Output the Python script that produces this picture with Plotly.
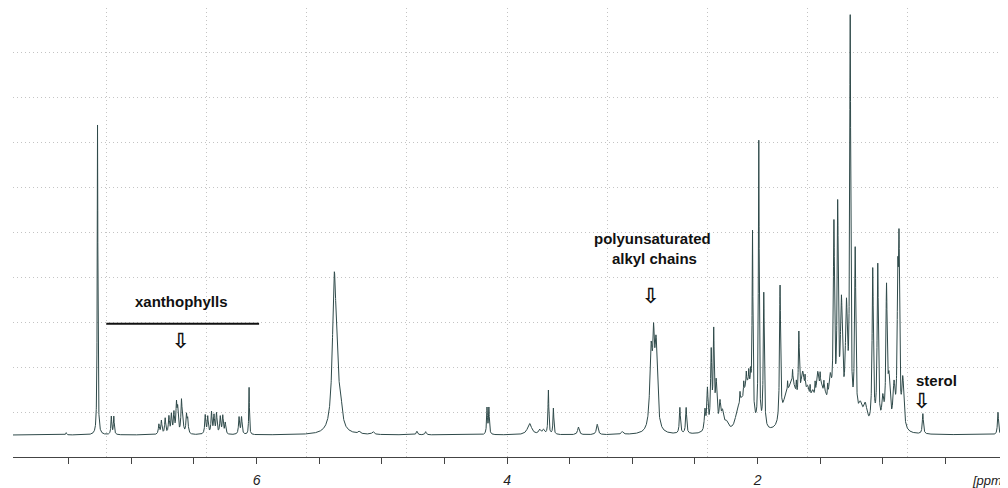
import numpy as np
import plotly.graph_objects as go

# ---- data (1H NMR peak list) ----
# chemical shift (ppm), height (arbitrary intensity units), half width (ppm)
peak_ppm = [7.52, 7.27, 7.16, 7.14,
            6.78, 6.76, 6.73, 6.70, 6.68, 6.66, 6.64, 6.63, 6.60, 6.59, 6.56, 6.55,
            6.41, 6.39, 6.36, 6.34, 6.32, 6.29, 6.27, 6.25, 6.14, 6.12, 6.06,
            5.38, 5.36, 5.33, 5.18, 5.07, 4.72, 4.65, 4.16, 4.145,
            3.82, 3.74, 3.71, 3.67, 3.63, 3.43, 3.28, 3.08,
            2.85, 2.83, 2.81, 2.62, 2.57,
            2.42, 2.40, 2.37, 2.35, 2.33, 2.30, 2.28, 2.25,
            2.16, 2.13, 2.10, 2.08, 2.06, 2.14, 2.11, 2.09, 2.07, 2.055,
            2.04, 1.99, 1.95,
            1.82, 1.78, 1.74, 1.71, 1.67, 1.64, 1.60, 1.56, 1.52, 1.49, 1.46, 1.42,
            1.76, 1.72, 1.69, 1.62, 1.58, 1.54, 1.50, 1.47, 1.44,
            1.39, 1.36, 1.33, 1.29, 1.26, 1.22, 1.18, 1.14,
            1.08, 1.04, 1.00, 0.97, 0.95, 0.91, 0.88, 0.87, 0.84,
            0.68, 0.08]
peak_height = [0.05, 6.9, 0.40, 0.40,
               0.22, 0.30, 0.35, 0.38, 0.42, 0.45, 0.62, 0.50, 0.68, 0.42, 0.40, 0.30,
               0.42, 0.38, 0.48, 0.40, 0.45, 0.38, 0.40, 0.25, 0.38, 0.38, 1.05,
               3.25, 0.9, 0.5, 0.05, 0.06, 0.08, 0.07, 0.58, 0.58,
               0.25, 0.10, 0.10, 0.98, 0.58, 0.17, 0.23, 0.06,
               1.7, 1.55, 1.85, 0.58, 0.58,
               0.45, 0.9, 1.7, 2.05, 1.0, 0.55, 0.35, 0.2,
               0.35, 0.4, 0.45, 0.5, 0.55, 0.25, 0.3, 0.3, 0.3, 0.35,
               4.0, 6.35, 3.0,
               3.0, 0.45, 0.55, 0.6, 1.55, 1.0, 0.6, 0.55, 0.9, 0.6, 0.45, 0.9,
               0.25, 0.3, 0.3, 0.3, 0.25, 0.3, 0.3, 0.25, 0.3,
               4.2, 4.6, 2.6, 2.5, 8.85, 3.8, 0.45, 0.5,
               3.5, 3.6, 0.6, 3.0, 1.0, 0.9, 3.0, 3.55, 1.1,
               0.45, 0.5]
peak_width = [0.004, 0.003, 0.004, 0.004,
              0.005, 0.005, 0.005, 0.005, 0.005, 0.005, 0.005, 0.005, 0.005, 0.005, 0.005, 0.005,
              0.005, 0.005, 0.005, 0.005, 0.005, 0.005, 0.005, 0.005, 0.005, 0.005, 0.003,
              0.017, 0.015, 0.015, 0.01, 0.01, 0.006, 0.006, 0.004, 0.004,
              0.02, 0.01, 0.01, 0.004, 0.004, 0.008, 0.008, 0.01,
              0.012, 0.008, 0.012, 0.005, 0.005,
              0.006, 0.006, 0.006, 0.005, 0.008, 0.008, 0.01, 0.02,
              0.02, 0.02, 0.02, 0.02, 0.02, 0.003, 0.003, 0.003, 0.003, 0.003,
              0.004, 0.004, 0.005,
              0.005, 0.03, 0.03, 0.03, 0.005, 0.02, 0.02, 0.02, 0.015, 0.02, 0.02, 0.015,
              0.003, 0.003, 0.003, 0.003, 0.003, 0.003, 0.003, 0.003, 0.003,
              0.006, 0.006, 0.01, 0.01, 0.005, 0.006, 0.02, 0.02,
              0.006, 0.006, 0.01, 0.006, 0.01, 0.01, 0.006, 0.005, 0.01,
              0.005, 0.005]

x_range = [7.945, 0.0]
x_tick_vals = [7.5, 7.0, 6.5, 6.0, 5.5, 5.0, 4.5, 4.0, 3.5, 3.0, 2.5, 2.0, 1.5, 1.0, 0.5]
x_tick_text = ["", "", "", "6", "", "", "", "4", "", "", "", "2", "", "", ""]

# ---- spectrum as a sum of Lorentzian lines ----
ppm = np.linspace(x_range[0], x_range[1], 16000)
intensity = np.zeros_like(ppm)
for c, h, w in zip(peak_ppm, peak_height, peak_width):
    intensity += h * w * w / ((ppm - c) ** 2 + w * w)

line_color = "#2f4a4a"
grid_color = "#c4c4c4"

fig = go.Figure()
fig.add_trace(go.Scatter(x=ppm, y=intensity, mode="lines",
                         line=dict(color=line_color, width=1),
                         hoverinfo="skip", showlegend=False))
# invisible trace carrying the secondary x axis used for the vertical grid
fig.add_trace(go.Scatter(x=[x_range[0]], y=[0], xaxis="x2", mode="markers",
                         marker=dict(opacity=0), hoverinfo="skip", showlegend=False))

fig.update_layout(
    width=1000, height=480,
    margin=dict(l=5, r=0, t=0, b=31),
    paper_bgcolor="white", plot_bgcolor="white",
    font=dict(family="Liberation Sans, Arial, sans-serif", color="#222222"),
    xaxis=dict(range=x_range, tickmode="array", tickvals=x_tick_vals, ticktext=x_tick_text,
               ticks="outside", ticklen=6, tickwidth=1, tickcolor="#444444",
               showline=True, linecolor="#444444", linewidth=1, showgrid=False,
               zeroline=False, ticklabelstandoff=4,
               tickfont=dict(size=14, style="italic", color="#222222")),
    xaxis2=dict(range=x_range, overlaying="x", tickmode="linear", tick0=0, dtick=0.8,
                showticklabels=False, ticks="", showgrid=True, gridcolor=grid_color,
                griddash="1px,3px", gridwidth=1, zeroline=False, showline=False),
    yaxis=dict(range=[-0.489, 9.489], tickmode="array",
               tickvals=[0.5, 1.5, 2.5, 3.5, 4.5, 5.5, 6.5, 7.5, 8.5],
               showticklabels=False, ticks="", showgrid=True, gridcolor=grid_color,
               griddash="1px,3px", gridwidth=1, zeroline=False, showline=False),
)

ann_font = dict(family="Liberation Sans, Arial, sans-serif", size=15, color="#111111")
arrow_font = dict(family="DejaVu Sans, sans-serif", size=21, color="#111111")
fig.add_annotation(x=6.6, y=2.97, text="<b>xanthophylls</b>", showarrow=False, font=ann_font)
fig.add_shape(type="line", x0=7.2, x1=5.98, y0=2.47, y1=2.47,
              line=dict(color="#111111", width=2))
fig.add_annotation(x=6.6, y=2.1, text="<b>⇩</b>", showarrow=False, font=arrow_font)
fig.add_annotation(x=2.84, y=4.15, text="<b>polyunsaturated<br> alkyl chains</b>",
                   showarrow=False, font=ann_font)
fig.add_annotation(x=2.85, y=3.1, text="<b>⇩</b>", showarrow=False, font=arrow_font)
fig.add_annotation(x=0.57, y=1.22, text="<b>sterol</b>", showarrow=False, font=ann_font)
fig.add_annotation(x=0.69, y=0.75, text="<b>⇩</b>", showarrow=False, font=arrow_font)
fig.add_annotation(x=1.0, xref="paper", y=0, yref="paper", yshift=-23, xanchor="right",
                   yanchor="middle", text="[ppm]", showarrow=False,
                   font=dict(family="Liberation Sans, Arial, sans-serif", size=13,
                             style="italic", color="#222222"))

fig.write_html("out.html")
